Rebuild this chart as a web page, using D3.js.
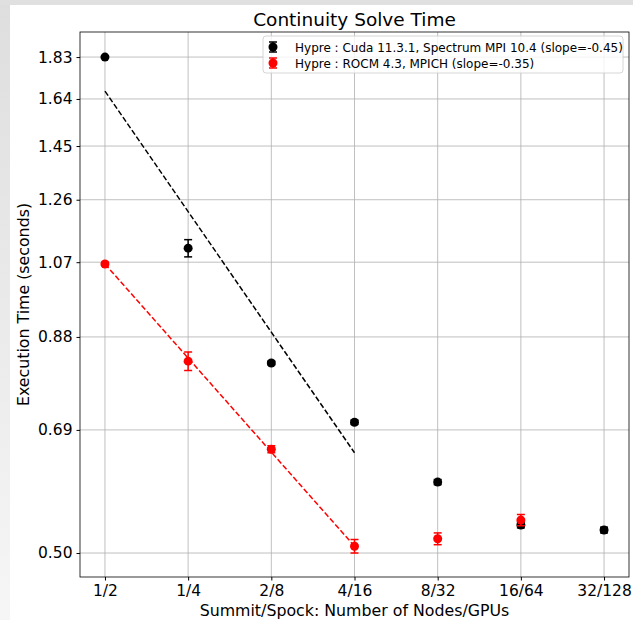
<!DOCTYPE html>
<head>
	<meta charset="utf-8">
	<title>Continuity Solve Time</title>
</head>
<style>
body { margin: 0; background: #e3e3e3; }
svg { display: block; font-family: "DejaVu Sans", sans-serif; }
.grid line { stroke: #b0b0b0; stroke-width: 0.8px; }
.axis text { font-size: 15.5px; font-family: "DejaVu Sans", sans-serif; fill: #000; }
.axis path, .axis line { stroke: #000; }
</style>
<svg id="svg" width="633" height="620"></svg>
<script src="https://cdn.jsdelivr.net/npm/d3@7"></script>
<script>

// data
var categories = ["1/2", "1/4", "2/8", "4/16", "8/32", "16/64", "32/128"];
var yTicks = [0.50, 0.69, 0.88, 1.07, 1.26, 1.45, 1.64, 1.83];

var cudaTime = [1.83, 1.110, 0.822, 0.704, 0.602, 0.538, 0.531];
var cudaErr  = [0.004, 0.025, 0.004, 0.004, 0.004, 0.004, 0.004];
var rocmTime = [1.065, 0.826, 0.656, 0.509, 0.519, 0.545];
var rocmErr  = [0.005, 0.020, 0.006, 0.009, 0.008, 0.008];

// fitted lines over the first four sizes (start / end values)
var cudaFit = [1.674, 0.650];
var rocmFit = [1.065, 0.509];

var labels = ["Hypre : Cuda 11.3.1, Spectrum MPI 10.4 (slope=-0.45)",
              "Hypre : ROCM 4.3, MPICH (slope=-0.35)"];
var colors = ["#000000", "#ff0000"];

var svg = d3.select("svg"),
    width = +svg.attr("width"),
    height = +svg.attr("height");

// figure background + screenshot border
var defs = svg.append("defs");
var grad = defs.append("linearGradient").attr("id", "edge")
    .attr("x1", 0).attr("y1", 0).attr("x2", 0).attr("y2", 1);
grad.append("stop").attr("offset", "0%").attr("stop-color", "#dedede");
grad.append("stop").attr("offset", "100%").attr("stop-color", "#f6f6f6");
svg.append("rect").attr("width", width).attr("height", height).attr("fill", "url(#edge)");
svg.append("rect").attr("x", 0).attr("y", 0).attr("width", width).attr("height", 5).attr("fill", "#e0e0e0");
svg.append("rect").attr("x", 10).attr("y", 5).attr("width", width - 10).attr("height", height - 5).attr("fill", "#fff");

var margin = {left: 80, right: 4, top: 32, bottom: 43};
var pw = width - margin.left - margin.right,
    ph = height - margin.top - margin.bottom;

var x = d3.scaleLinear().domain([-0.3, 6.3]).range([margin.left, margin.left + pw]);
var y = d3.scaleLog().domain([0.4696, 1.954]).range([margin.top + ph, margin.top]);

var g = svg.append("g");

// grid
var grid = g.append("g").attr("class", "grid");
grid.selectAll(".gx").data(categories).enter().append("line")
    .attr("x1", function(d, i) { return x(i); })
    .attr("x2", function(d, i) { return x(i); })
    .attr("y1", margin.top).attr("y2", margin.top + ph);
grid.selectAll(".gy").data(yTicks).enter().append("line")
    .attr("y1", function(d) { return y(d); })
    .attr("y2", function(d) { return y(d); })
    .attr("x1", margin.left).attr("x2", margin.left + pw);

// fit lines
function fitLine(vals, color) {
  g.append("line")
      .attr("x1", x(0)).attr("y1", y(vals[0]))
      .attr("x2", x(3)).attr("y2", y(vals[1]))
      .attr("stroke", color)
      .attr("stroke-width", 1.5)
      .attr("stroke-dasharray", "5.5,2.4");
}
fitLine(cudaFit, colors[0]);
fitLine(rocmFit, colors[1]);

// points with error bars
function series(vals, errs, color) {
  var s = g.append("g").selectAll("g").data(vals).enter().append("g");
  s.append("line")
      .attr("x1", function(d, i) { return x(i); })
      .attr("x2", function(d, i) { return x(i); })
      .attr("y1", function(d, i) { return y(d - errs[i]); })
      .attr("y2", function(d, i) { return y(d + errs[i]); })
      .attr("stroke", color).attr("stroke-width", 1.5);
  [-1, 1].forEach(function(sgn) {
    s.append("line")
        .attr("x1", function(d, i) { return x(i) - 4; })
        .attr("x2", function(d, i) { return x(i) + 4; })
        .attr("y1", function(d, i) { return y(d + sgn * errs[i]); })
        .attr("y2", function(d, i) { return y(d + sgn * errs[i]); })
        .attr("stroke", color).attr("stroke-width", 1.5);
  });
  s.append("circle")
      .attr("cx", function(d, i) { return x(i); })
      .attr("cy", function(d) { return y(d); })
      .attr("r", 4.5)
      .attr("fill", color);
}
series(cudaTime, cudaErr, colors[0]);
series(rocmTime, rocmErr, colors[1]);

// axes
var xAxis = d3.axisBottom(x).tickValues(d3.range(categories.length))
    .tickFormat(function(i) { return categories[i]; }).tickSize(3.5).tickPadding(4);
var yAxis = d3.axisLeft(y).tickValues(yTicks)
    .tickFormat(d3.format(".2f")).tickSize(3.5).tickPadding(4);

svg.append("g").attr("class", "axis")
    .attr("transform", "translate(0," + (margin.top + ph) + ")")
    .call(xAxis).call(function(a) { a.select(".domain").remove(); });
svg.append("g").attr("class", "axis")
    .attr("transform", "translate(" + margin.left + ",0)")
    .call(yAxis).call(function(a) { a.select(".domain").remove(); });

svg.append("rect")
    .attr("x", margin.left).attr("y", margin.top)
    .attr("width", pw).attr("height", ph)
    .attr("fill", "none").attr("stroke", "#000").attr("stroke-width", 0.8);

// titles
svg.append("text")
    .attr("x", margin.left + pw / 2).attr("y", 26)
    .attr("text-anchor", "middle").attr("font-size", 18.5)
    .text("Continuity Solve Time");
svg.append("text")
    .attr("x", margin.left + pw / 2).attr("y", 616)
    .attr("text-anchor", "middle").attr("font-size", 15.8)
    .text("Summit/Spock: Number of Nodes/GPUs");
svg.append("text")
    .attr("transform", "translate(29," + (margin.top + ph / 2) + ") rotate(-90)")
    .attr("text-anchor", "middle").attr("font-size", 15.8)
    .text("Execution Time (seconds)");

// legend
var leg = svg.append("g").attr("transform", "translate(263,36)");
leg.append("rect").attr("width", 360).attr("height", 37).attr("rx", 3)
    .attr("fill", "#fff").attr("fill-opacity", 0.8)
    .attr("stroke", "#cccccc").attr("stroke-width", 0.8);
var item = leg.selectAll(".item").data(labels).enter().append("g")
    .attr("transform", function(d, i) { return "translate(0," + (11 + i * 16) + ")"; });
item.append("line").attr("x1", 10).attr("x2", 10).attr("y1", -5).attr("y2", 5)
    .attr("stroke", function(d, i) { return colors[i]; }).attr("stroke-width", 1.5);
item.selectAll(".cap").data(function(d, i) { return [[i, -5], [i, 5]]; }).enter().append("line")
    .attr("x1", 6).attr("x2", 14)
    .attr("y1", function(d) { return d[1]; }).attr("y2", function(d) { return d[1]; })
    .attr("stroke", function(d) { return colors[d[0]]; }).attr("stroke-width", 1.5);
item.append("circle").attr("cx", 10).attr("cy", 0).attr("r", 4.5)
    .attr("fill", function(d, i) { return colors[i]; });
item.append("text").attr("x", 32).attr("y", 4.5).attr("font-size", 12)
    .text(function(d) { return d; });

</script>
